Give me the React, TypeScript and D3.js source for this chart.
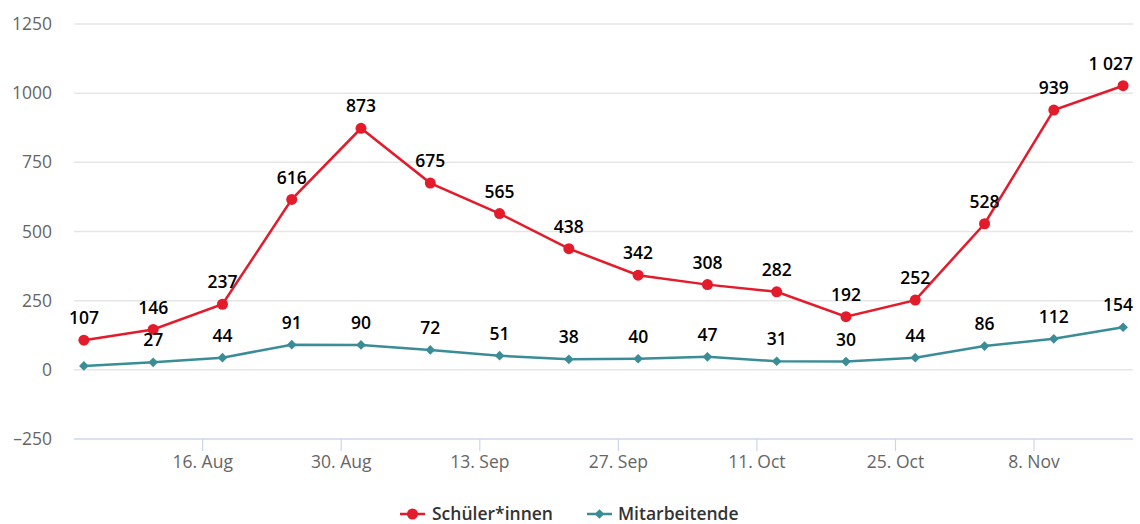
import { useEffect } from 'react';
import * as d3 from 'd3';

const WIDTH = 1140;
const HEIGHT = 524;
const MARGIN = { top: 24, right: 7, bottom: 85, left: 74 };

const FONT = '"Open Sans", "DejaVu Sans", sans-serif';
const RED = '#e31b2b';
const TEAL = '#3a8d97';
const AXIS_FONT = 17.5;
const LABEL_FONT = 17.5;

// weekly dates (Wednesdays), 2021
const dates = [
    '2021-08-04', '2021-08-11', '2021-08-18', '2021-08-25', '2021-09-01', '2021-09-08',
    '2021-09-15', '2021-09-22', '2021-09-29', '2021-10-06', '2021-10-13', '2021-10-20',
    '2021-10-27', '2021-11-03', '2021-11-10', '2021-11-17',
];
const schueler = [107, 146, 237, 616, 873, 675, 565, 438, 342, 308, 282, 192, 252, 528, 939, 1027];
const mitarbeitende = [14, 27, 44, 91, 90, 72, 51, 38, 40, 47, 31, 30, 44, 86, 112, 154];
// label of the first Mitarbeitende point is hidden in the original (overlap)
const hiddenLabels = [0];

const yTicks = [-250, 0, 250, 500, 750, 1000, 1250];
const xTicks = ['2021-08-16', '2021-08-30', '2021-09-13', '2021-09-27', '2021-10-11', '2021-10-25', '2021-11-08'];
const xDomain = ['2021-08-03', '2021-11-18'];

const MONTHS = ['Jan', 'Feb', 'Mar', 'Apr', 'May', 'Jun', 'Jul', 'Aug', 'Sep', 'Oct', 'Nov', 'Dec'];

const parse = d3.utcParse('%Y-%m-%d');
const fmtNum = (v: number) => d3.format(',')(v).replace(',', ' ');
const fmtDate = (d: Date) => `${d.getUTCDate()}. ${MONTHS[d.getUTCMonth()]}`;

export default function App() {
    useEffect(() => {
        document.body.style.margin = '0';
    }, []);

    const boundsWidth = WIDTH - MARGIN.left - MARGIN.right;
    const boundsHeight = 439 - MARGIN.top;

    const xScale = d3
        .scaleUtc()
        .domain(xDomain.map((d) => parse(d) as Date))
        .range([0, boundsWidth]);

    const yScale = d3.scaleLinear().domain([-250, 1250]).range([boundsHeight, 0]);

    const pts = dates.map((d) => parse(d) as Date);

    const line = d3
        .line<number>()
        .x((_, i) => xScale(pts[i]))
        .y((v) => yScale(v));

    const diamond = d3.symbol().type(d3.symbolDiamond2).size(60)() as string;

    const grid = yTicks.map((v) => (
        <g key={v}>
            {v !== -250 && (
                <line x1={0} x2={boundsWidth} y1={yScale(v)} y2={yScale(v)} stroke="#e6e6e6" strokeWidth={1.5} />
            )}
            <text
                x={-22}
                y={yScale(v)}
                dy="0.35em"
                textAnchor="end"
                fill="#666"
                fontSize={AXIS_FONT}
                fontFamily={FONT}
            >
                {v < 0 ? `\u2013${Math.abs(v)}` : v}
            </text>
        </g>
    ));

    const xAxis = (
        <g transform={`translate(0,${boundsHeight})`}>
            <line x1={0} x2={boundsWidth} y1={0} y2={0} stroke="#ccd6eb" strokeWidth={1.5} />
            {xTicks.map((t) => {
                const d = parse(t) as Date;
                const x = xScale(d);
                return (
                    <g key={t}>
                        <line x1={x} x2={x} y1={0} y2={12} stroke="#ccd6eb" strokeWidth={1.2} />
                        <text x={x} y={23} dy="0.35em" textAnchor="middle" fill="#666" fontSize={AXIS_FONT} fontFamily={FONT}>
                            {fmtDate(d)}
                        </text>
                    </g>
                );
            })}
        </g>
    );

    // labels are kept inside the plot area, like the original does
    const labels = (values: number[], hide: number[]) =>
        values.map((v, i) => {
            if (hide.includes(i)) return null;
            const txt = fmtNum(v);
            const w = txt.length * LABEL_FONT * 0.58;
            const x = xScale(pts[i]);
            const overflow = x + w / 2 > boundsWidth;
            return (
                <text
                    key={i}
                    x={overflow ? boundsWidth : x}
                    y={yScale(v) - 22}
                    dy="0.35em"
                    textAnchor={overflow ? 'end' : 'middle'}
                    fill="#000"
                    fontSize={LABEL_FONT}
                    fontWeight={600}
                    fontFamily={FONT}
                >
                    {txt}
                </text>
            );
        });

    return (
        <svg width={WIDTH} height={HEIGHT} style={{ display: 'block', background: '#fff' }}>
            <g transform={`translate(${MARGIN.left},${MARGIN.top})`}>
                {grid}
                {xAxis}

                <path d={line(mitarbeitende) ?? ''} fill="none" stroke={TEAL} strokeWidth={2.5} />
                {mitarbeitende.map((v, i) => (
                    <path key={i} d={diamond} transform={`translate(${xScale(pts[i])},${yScale(v)})`} fill={TEAL} />
                ))}

                <path d={line(schueler) ?? ''} fill="none" stroke={RED} strokeWidth={2.5} />
                {schueler.map((v, i) => (
                    <circle key={i} cx={xScale(pts[i])} cy={yScale(v)} r={5.5} fill={RED} />
                ))}

                {labels(mitarbeitende, hiddenLabels)}
                {labels(schueler, [])}
            </g>

            {/* legend */}
            <g transform="translate(400,514)">
                <line x1={0} x2={25} y1={0} y2={0} stroke={RED} strokeWidth={2.5} />
                <circle cx={12.5} cy={0} r={5.5} fill={RED} />
                <text x={32} y={0} dy="0.35em" fill="#333" fontSize={17.5} fontWeight={600} fontFamily={FONT}>
                    Schüler*innen
                </text>
                <line x1={187} x2={212} y1={0} y2={0} stroke={TEAL} strokeWidth={2.5} />
                <path d={diamond} transform="translate(199.5,0)" fill={TEAL} />
                <text x={218} y={0} dy="0.35em" fill="#333" fontSize={17.5} fontWeight={600} fontFamily={FONT}>
                    Mitarbeitende
                </text>
            </g>
        </svg>
    );
}
